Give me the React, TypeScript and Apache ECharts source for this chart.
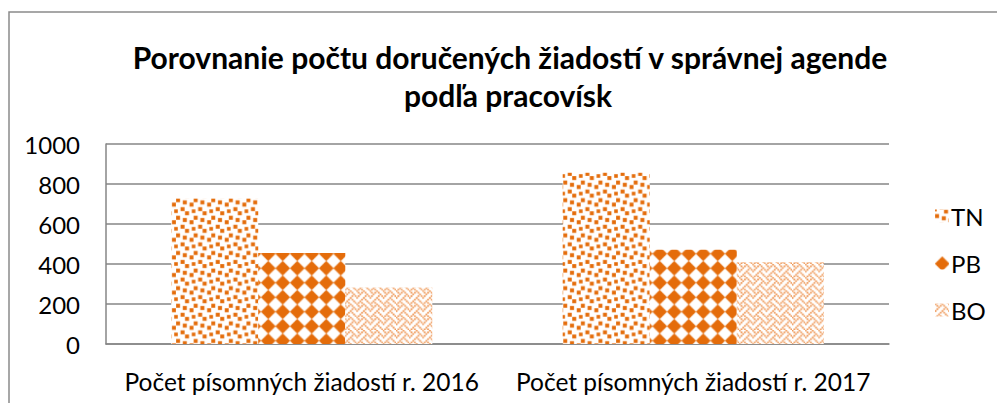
import React, { useEffect, useRef } from "react";
import * as echarts from "echarts";

const categories = ["Počet písomných žiadostí r. 2016", "Počet písomných žiadostí r. 2017"];
const seriesNames = ["TN", "PB", "BO"];
const tnValues = [728, 856];
const pbValues = [455, 471];
const boValues = [282, 410];
const yTicks = { min: 0, max: 1000, interval: 200 };
const titleLines = ["Porovnanie počtu doručených žiadostí v správnej agende", "podľa pracovísk"];

const ORANGE = "#E46C0A";
const FONT = "Lato, 'Open Sans', sans-serif";

function makeTile(size: number, draw: (ctx: CanvasRenderingContext2D) => void) {
  const res = 6;
  const c = document.createElement("canvas");
  c.width = Math.round(size * res);
  c.height = Math.round(size * res);
  const ctx = c.getContext("2d") as CanvasRenderingContext2D;
  ctx.scale(c.width / size, c.height / size);
  ctx.fillStyle = "#ffffff";
  ctx.fillRect(0, 0, size, size);
  draw(ctx);
  return { image: c.toDataURL(), repeat: "repeat", imageWidth: size, imageHeight: size } as any;
}

function confettiPattern() {
  const s = 2.2;
  const size = 8 * s;
  const blocks = [[4, 0], [7, 7], [0, 2], [3, 3], [6, 4], [2, 6]];
  return makeTile(size, (ctx) => {
    ctx.fillStyle = ORANGE;
    for (const [bx, by] of blocks) {
      for (const dx of [-size, 0, size]) {
        for (const dy of [-size, 0, size]) {
          ctx.fillRect(bx * s + 0.2 + dx, by * s + 0.2 + dy, 2 * s - 0.4, 2 * s - 0.4);
        }
      }
    }
  });
}

function diamondPattern() {
  const size = 14.5;
  return makeTile(size, (ctx) => {
    ctx.fillStyle = ORANGE;
    const c = size / 2;
    const r = size * 0.49;
    ctx.beginPath();
    ctx.moveTo(c, c - r);
    ctx.lineTo(c + r, c);
    ctx.lineTo(c, c + r);
    ctx.lineTo(c - r, c);
    ctx.closePath();
    ctx.fill();
  });
}

function weavePattern() {
  const s = 1.65;
  const size = 8 * s;
  const rows = [0x88, 0x54, 0x22, 0x45, 0x88, 0x14, 0x22, 0x51];
  return makeTile(size, (ctx) => {
    ctx.fillStyle = "#EE9450";
    rows.forEach((row, y) => {
      for (let x = 0; x < 8; x++) {
        if (row & (0x80 >> x)) ctx.fillRect(x * s, y * s, s, s);
      }
    });
  });
}

export default function App() {
  const ref = useRef<HTMLDivElement>(null);
  useEffect(() => {
    document.body.style.margin = "0";
    const chart = echarts.init(ref.current as HTMLDivElement, undefined, { renderer: "svg" });
    const patterns = [confettiPattern(), diamondPattern(), weavePattern()];
    const data = [tnValues, pbValues, boValues];
    chart.setOption({
      animation: false,
      backgroundColor: "#ffffff",
      textStyle: { fontFamily: FONT },
      graphic: [
        {
          type: "rect",
          shape: { x: 9, y: 12, width: 1200, height: 600 },
          style: { fill: "none", stroke: "#8a8a8a", lineWidth: 1.5 },
          silent: true,
        },
        {
          type: "text",
          x: 510,
          y: 57,
          style: {
            text: titleLines[0],
            fontFamily: FONT,
            fontWeight: "bold",
            fontSize: 30,
            fill: "#000000",
            textAlign: "center",
            textVerticalAlign: "middle",
          },
        },
        {
          type: "text",
          x: 508,
          y: 95,
          style: {
            text: titleLines[1],
            fontFamily: FONT,
            fontWeight: "bold",
            fontSize: 30,
            fill: "#000000",
            textAlign: "center",
            textVerticalAlign: "middle",
          },
        },
      ],
      legend: {
        orient: "vertical",
        left: 930,
        top: 199,
        itemWidth: 14,
        itemHeight: 13,
        itemGap: 23,
        icon: "rect",
        textStyle: { fontFamily: FONT, fontSize: 24, color: "#000000", padding: [0, 0, 0, -3] },
        data: seriesNames,
      },
      grid: { left: 106, right: 108, top: 144, bottom: 59, containLabel: false },
      xAxis: {
        type: "category",
        data: categories,
        axisLine: { show: true, lineStyle: { color: "#868686", width: 1.5 } },
        axisTick: { show: false },
        axisLabel: { fontFamily: FONT, fontSize: 24.5, color: "#000000", margin: 25, interval: 0 },
      },
      yAxis: {
        type: "value",
        min: yTicks.min,
        max: yTicks.max,
        interval: yTicks.interval,
        axisLine: { show: true, lineStyle: { color: "#868686", width: 1.5 } },
        axisTick: { show: false },
        splitLine: { show: true, lineStyle: { color: "#868686", width: 1.5 } },
        axisLabel: {
          fontFamily: FONT,
          fontSize: 24,
          color: "#000000",
          margin: 26,
          formatter: (v: number) => String(v),
        },
      },
      series: seriesNames.map((name, i) => ({
        name,
        type: "bar",
        data: data[i],
        barGap: "0%",
        barCategoryGap: "33.3%",
        itemStyle: { color: patterns[i] },
      })),
    });
    return () => chart.dispose();
  }, []);
  return <div ref={ref} style={{ position: "absolute", left: 0, top: 0, width: 997, height: 403 }} />;
}
